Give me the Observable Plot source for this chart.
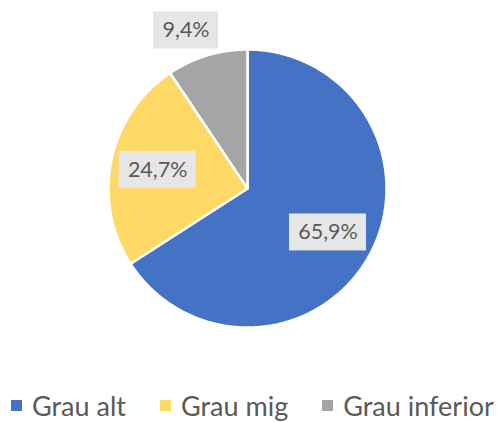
<!DOCTYPE html>
<html>
<head>
<meta charset="utf-8">
<script src="https://cdn.jsdelivr.net/npm/d3@7"></script>
<script src="https://cdn.jsdelivr.net/npm/@observablehq/plot@0.6"></script>
<style>
  html, body { margin: 0; padding: 0; background: #fff; }
  body { width: 500px; height: 422px; overflow: hidden; font-family: Lato, "Open Sans", sans-serif; }
  #chart { height: 395px; }
  #legend { position: relative; top: -4px; height: 27px; line-height: 30px; white-space: nowrap; font-size: 27px; color: #595959; padding-left: 11px; }
  .item { display: inline-block; margin-right: 34px; }
  .sw { display: inline-block; width: 11px; height: 11px; margin-right: 10px; position: relative; top: -5px; vertical-align: baseline; }
</style>
</head>
<body>
<div id="chart"></div>
<div id="legend"></div>
<script>
const categories = ["Grau alt", "Grau mig", "Grau inferior"];
const values = [65.9, 24.7, 9.4];
const labels = ["65,9%", "24,7%", "9,4%"];
const colors = ["#4472C4", "#FFD966", "#A5A5A5"];

const total = d3.sum(values);
const slices = [];
let acc = 0;
values.forEach((v, i) => {
  const s = acc / total, e = (acc + v) / total;
  acc += v;
  slices.push({name: categories[i], label: labels[i], start: s, end: e, frac: v / total});
});

// polygon vertices for each slice (unit circle, y up, clockwise from top)
const pts = [];
for (const sl of slices) {
  pts.push({name: sl.name, x: 0, y: 0});
  const n = Math.max(2, Math.ceil((sl.end - sl.start) * 720));
  for (let k = 0; k <= n; k++) {
    const t = sl.start + (sl.end - sl.start) * k / n;
    const a = 2 * Math.PI * t;
    pts.push({name: sl.name, x: Math.sin(a), y: Math.cos(a)});
  }
  pts.push({name: sl.name, x: 0, y: 0});
}

const R = 139; // pixel radius -> data unit
const labelData = slices.map(sl => {
  const outside = sl.frac < 0.15;
  const a = 2 * Math.PI * ((sl.start + sl.end) / 2 - (outside ? 0.012 : 0));
  const r = outside ? 1.22 : 0.66;
  const hw = (12 * sl.label.length + 17) / 2 / R;
  const hh = 18.5 / R;
  const x = Math.sin(a) * r, y = Math.cos(a) * r;
  return {...sl, x, y, x1: x - hw, x2: x + hw, y1: y - hh, y2: y + hh};
});

const plot = Plot.plot({
  width: 500,
  height: 395,
  marginLeft: 108,
  marginRight: 114,
  marginTop: 49,
  marginBottom: 68,
  x: {domain: [-1, 1], axis: null},
  y: {domain: [-1, 1], axis: null},
  color: {domain: categories, range: colors},
  style: {fontFamily: "Lato, 'Open Sans', sans-serif", background: "#fff", overflow: "visible"},
  marks: [
    Plot.line(pts, {x: "x", y: "y", z: "name", fill: "name", stroke: "#fff", strokeWidth: 2.5, strokeLinejoin: "miter", curve: "linear"}),
    Plot.rect(labelData, {x1: "x1", x2: "x2", y1: "y1", y2: "y2", fill: "#E7E6E6"}),
    Plot.text(labelData, {x: "x", y: "y", text: "label", fill: "#595959", fontSize: 21.5})
  ]
});
document.getElementById("chart").appendChild(plot);

const legend = document.getElementById("legend");
categories.forEach((c, i) => {
  const item = document.createElement("span");
  item.className = "item";
  const sw = document.createElement("span");
  sw.className = "sw";
  sw.style.background = colors[i];
  item.appendChild(sw);
  item.appendChild(document.createTextNode(c));
  legend.appendChild(item);
});
</script>
</body>
</html>
